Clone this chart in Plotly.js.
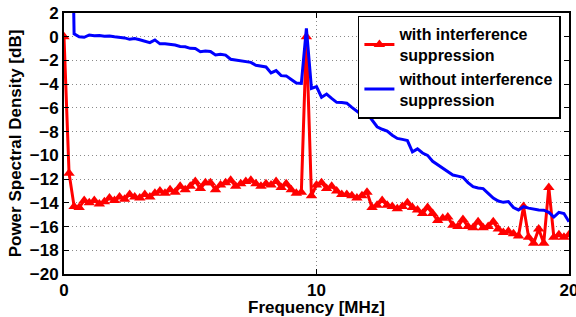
<!DOCTYPE html>
<html>
<head>
<meta charset="utf-8">
<script src="https://cdn.plot.ly/plotly-3.0.1.min.js"></script>
<style>html,body{margin:0;padding:0;background:#fff;}#chart{width:576px;height:317px;}</style>
</head>
<body>
<div id="chart"></div>
<script>
const frequencyMHz = [
  0.0, 0.2, 0.4, 0.6, 0.8, 1.0, 1.2, 1.4, 1.6, 1.8,
  2.0, 2.2, 2.4, 2.6, 2.8, 3.0, 3.2, 3.4, 3.6, 3.8,
  4.0, 4.2, 4.4, 4.6, 4.8, 5.0, 5.2, 5.4, 5.6, 5.8,
  6.0, 6.2, 6.4, 6.6, 6.8, 7.0, 7.2, 7.4, 7.6, 7.8,
  8.0, 8.2, 8.4, 8.6, 8.8, 9.0, 9.2, 9.4, 9.6, 9.8,
  10.0, 10.2, 10.4, 10.6, 10.8, 11.0, 11.2, 11.4, 11.6, 11.8,
  12.0, 12.2, 12.4, 12.6, 12.8, 13.0, 13.2, 13.4, 13.6, 13.8,
  14.0, 14.2, 14.4, 14.6, 14.8, 15.0, 15.2, 15.4, 15.6, 15.8,
  16.0, 16.2, 16.4, 16.6, 16.8, 17.0, 17.2, 17.4, 17.6, 17.8,
  18.0, 18.2, 18.4, 18.6, 18.8, 19.0, 19.2, 19.4, 19.6, 19.8,
  20.0
];
const withSuppressionDB = [
  0.0, -11.5, -14.3, -14.4, -13.8, -14.0, -13.8, -14.1, -13.9, -13.6,
  -13.8, -13.5, -13.7, -13.3, -13.5, -13.6, -13.3, -13.5, -13.2, -13.0,
  -13.2, -12.9, -13.1, -12.6, -12.9, -12.6, -12.2, -12.8, -12.3, -12.3,
  -12.9, -12.5, -12.3, -12.1, -12.6, -12.4, -12.2, -12.1, -12.4, -12.6,
  -12.4, -12.5, -12.2, -12.7, -12.4, -12.9, -13.2, -13.1, 0.0, -13.4,
  -12.5, -12.3, -12.8, -12.6, -13.0, -13.3, -13.3, -13.4, -13.6, -13.4,
  -13.1, -14.4, -14.2, -13.8, -14.2, -14.3, -14.5, -14.3, -14.0, -14.4,
  -14.6, -14.9, -14.4, -14.9, -15.5, -15.3, -15.2, -15.9, -16.0, -15.4,
  -16.0, -16.1, -15.6, -16.1, -16.0, -15.6, -16.2, -16.5, -16.4, -16.6,
  -16.8, -14.3, -16.9, -17.4, -16.2, -17.4, -12.7, -16.9, -16.7, -16.9,
  -16.7
];
const withoutSuppressionDB = [
  30.0, 25.0, 0.25, 0.0, -0.05, 0.15, 0.08, 0.1, 0.05, 0.07,
  0.0, -0.05, -0.1, -0.22, -0.15, -0.25, -0.38, -0.5, -0.27, -0.6,
  -0.6, -0.63, -0.7, -0.82, -0.85, -0.98, -1.0, -1.26, -1.2, -1.25,
  -1.54, -1.48, -1.55, -1.9, -1.95, -2.0, -2.05, -2.16, -2.4, -2.5,
  -2.55, -3.05, -2.86, -3.28, -3.3, -3.6, -3.9, -3.93, 0.7, -4.35,
  -4.2, -5.1, -4.83, -5.2, -5.53, -5.55, -5.6, -5.95, -6.3, -6.6,
  -6.46, -7.0, -7.59, -7.8, -7.95, -8.3, -8.57, -8.65, -8.75, -9.7,
  -9.45, -9.8, -10.0, -10.5, -10.8, -11.1, -11.4, -11.66, -11.75, -11.85,
  -12.3, -12.64, -12.75, -12.8, -13.2, -13.6, -13.85, -13.96, -13.9, -14.4,
  -14.6, -14.33, -14.45, -14.55, -14.6, -14.62, -14.8, -15.2, -14.8, -14.9,
  -15.6
];
const xTicks = [0, 10, 20];
const yTicks = [-20, -18, -16, -14, -12, -10, -8, -6, -4, -2, 0, 2];
const seriesNames = ["with interference<br>suppression", "without interference<br>suppression"];
const xTitle = "Frequency [MHz]";
const yTitle = "Power Spectral Density [dB]";

const fontFam = "Liberation Sans, Arial, sans-serif";
const traces = [
  {
    x: frequencyMHz, y: withSuppressionDB, name: seriesNames[0],
    type: "scatter", mode: "lines+markers",
    line: {color: "#ff0000", width: 3},
    marker: {symbol: "triangle-up", size: 10, color: "#ff0000"},
    cliponaxis: true
  },
  {
    x: frequencyMHz, y: withoutSuppressionDB, name: seriesNames[1],
    type: "scatter", mode: "lines",
    line: {color: "#0000ff", width: 3},
    cliponaxis: true
  }
];
const axisCommon = {
  showline: true, linecolor: "#000", linewidth: 2, mirror: "allticks",
  ticks: "inside", ticklen: 5, tickwidth: 1, tickcolor: "#000",
  showgrid: true, gridcolor: "#8a8a8a", gridwidth: 1, griddash: "1px,3px",
  zeroline: false, automargin: false, ticklabeloverflow: "allow",
  tickfont: {family: fontFam, size: 17, color: "#000", weight: "bold"}
};
const layout = {
  width: 576, height: 317,
  margin: {l: 64, r: 7, t: 13, b: 43, pad: 0},
  paper_bgcolor: "#fff", plot_bgcolor: "#fff",
  showlegend: true,
  xaxis: Object.assign({}, axisCommon, {
    range: [0, 20], tickvals: xTicks
  }),
  yaxis: Object.assign({}, axisCommon, {
    range: [-20, 2], tickvals: yTicks,
    title: {text: yTitle, font: {family: fontFam, size: 17, color: "#000", weight: "bold"}, standoff: 4}
  }),
  annotations: [{
    text: xTitle, xref: "paper", yref: "paper", x: 0.5, y: -0.128,
    xanchor: "center", yanchor: "middle", showarrow: false,
    font: {family: fontFam, size: 17, color: "#000", weight: "bold"}
  }],
  legend: {
    x: 0.582, y: 0.99, xanchor: "left", yanchor: "top",
    bgcolor: "#fff", bordercolor: "#000", borderwidth: 1.5,
    font: {family: fontFam, size: 16, color: "#000", weight: "bold"},
    tracegroupgap: 0, valign: "middle"
  }
};
Plotly.newPlot("chart", traces, layout, {staticPlot: true, displayModeBar: false});
</script>
</body>
</html>
